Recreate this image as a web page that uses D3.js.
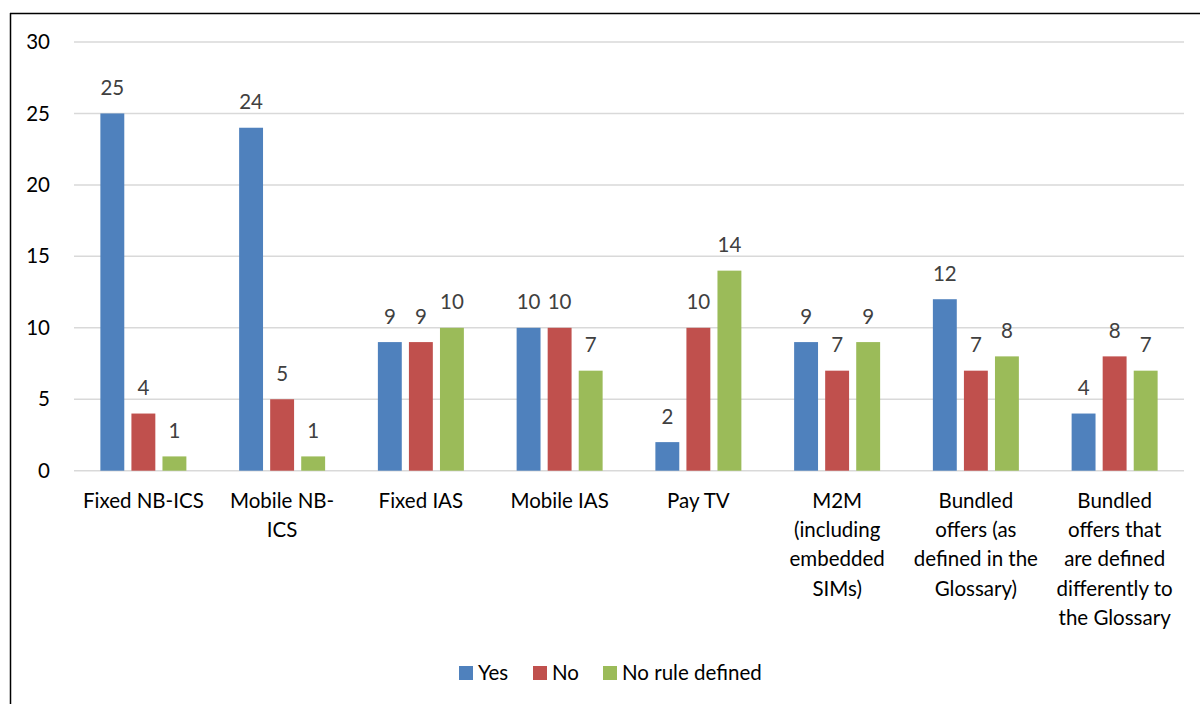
<!DOCTYPE html>
<html>
<head>
<meta charset="utf-8">
<script src="https://cdn.jsdelivr.net/npm/d3@7"></script>
<style>
  body { margin: 0; background: #fff; }
  svg { font-family: Lato, "Open Sans", sans-serif; }
</style>
</head>
<body>
<svg id="viz" width="1200" height="704"></svg>
<script>
// data
const categories = ["Fixed NB-ICS", "Mobile NB-ICS", "Fixed IAS", "Mobile IAS", "Pay TV",
    "M2M (including embedded SIMs)", "Bundled offers (as defined in the Glossary)",
    "Bundled offers that are defined differently to the Glossary"];
const categoryLines = [
    ["Fixed NB-ICS"],
    ["Mobile NB-", "ICS"],
    ["Fixed IAS"],
    ["Mobile IAS"],
    ["Pay TV"],
    ["M2M", "(including", "embedded", "SIMs)"],
    ["Bundled", "offers (as", "defined in the", "Glossary)"],
    ["Bundled", "offers that", "are defined", "differently to", "the Glossary"]
];
const seriesNames = ["Yes", "No", "No rule defined"];
const yesValues = [25, 24, 9, 10, 2, 9, 12, 4];
const noValues = [4, 5, 9, 10, 10, 7, 7, 8];
const noRuleValues = [1, 1, 10, 7, 14, 9, 8, 7];
const colors = ["#4F81BD", "#C0504D", "#9BBB59"];
const yTicks = [0, 5, 10, 15, 20, 25, 30];

const fontSize = "20.5px";
const svg = d3.select("#viz");

// frame, only top and left edges show
svg.append("line").attr("x1", 10.5).attr("x2", 10.5).attr("y1", 13).attr("y2", 704)
    .attr("stroke", "#000").attr("stroke-width", 1.5);
svg.append("line").attr("x1", 10).attr("x2", 1200).attr("y1", 13.5).attr("y2", 13.5)
    .attr("stroke", "#000").attr("stroke-width", 1.5);

const plotLeft = 74, plotRight = 1184, plotTop = 42, plotBottom = 470.7;

const y = d3.scaleLinear().domain([0, 30]).range([plotBottom, plotTop]);
const x0 = d3.scaleBand().domain(categories).range([plotLeft, plotRight]);
const groupW = 86;
const x1 = d3.scaleBand().domain(seriesNames).range([0, groupW]).paddingInner(0.23);

const allSeries = [yesValues, noValues, noRuleValues];

// grid
svg.append("g").selectAll("line").data(yTicks).join("line")
    .attr("x1", plotLeft).attr("x2", plotRight)
    .attr("y1", d => y(d)).attr("y2", d => y(d))
    .attr("stroke", "#D9D9D9").attr("stroke-width", 1.5);

// y axis labels
const yAxis = svg.append("g").attr("transform", `translate(${plotLeft},0)`)
    .call(d3.axisLeft(y).tickValues(yTicks).tickSize(0).tickPadding(24));
yAxis.select(".domain").remove();
yAxis.selectAll("text").style("font-size", fontSize).style("font-family", "Lato, sans-serif")
    .attr("fill", "#000");

// bars
const groups = svg.append("g").selectAll("g").data(categories).join("g")
    .attr("transform", d => `translate(${x0(d) + (x0.bandwidth() - groupW) / 2},0)`);

groups.selectAll("rect")
    .data((d, i) => seriesNames.map((s, j) => ({s, j, v: allSeries[j][i]})))
    .join("rect")
    .attr("x", d => x1(d.s))
    .attr("y", d => y(d.v))
    .attr("width", x1.bandwidth())
    .attr("height", d => y(0) - y(d.v))
    .attr("fill", d => colors[d.j]);

groups.selectAll("text.val")
    .data((d, i) => seriesNames.map((s, j) => ({s, j, v: allSeries[j][i]})))
    .join("text")
    .attr("class", "val")
    .attr("x", d => x1(d.s) + x1.bandwidth() / 2)
    .attr("y", d => y(d.v) - 18.5)
    .attr("text-anchor", "middle")
    .style("font-size", fontSize)
    .attr("fill", "#404040")
    .text(d => d.v);

// category labels
svg.append("g").selectAll("text").data(categories).join("text")
    .attr("x", d => x0(d) + x0.bandwidth() / 2)
    .attr("y", 508)
    .attr("text-anchor", "middle")
    .style("font-size", fontSize)
    .attr("fill", "#000")
    .each(function (d, i) {
        d3.select(this).selectAll("tspan").data(categoryLines[i]).join("tspan")
            .attr("x", x0(d) + x0.bandwidth() / 2)
            .attr("dy", (t, k) => k === 0 ? 0 : 29.2)
            .text(t => t);
    });

// legend
const legendX = [459, 533, 603];
const legend = svg.append("g").selectAll("g").data(seriesNames).join("g")
    .attr("transform", (d, i) => `translate(${legendX[i]},666)`);
legend.append("rect").attr("width", 14).attr("height", 14).attr("fill", (d, i) => colors[i]);
legend.append("text").attr("x", 19).attr("y", 13.5)
    .style("font-size", fontSize).attr("fill", "#000")
    .text(d => d);
</script>
</body>
</html>
